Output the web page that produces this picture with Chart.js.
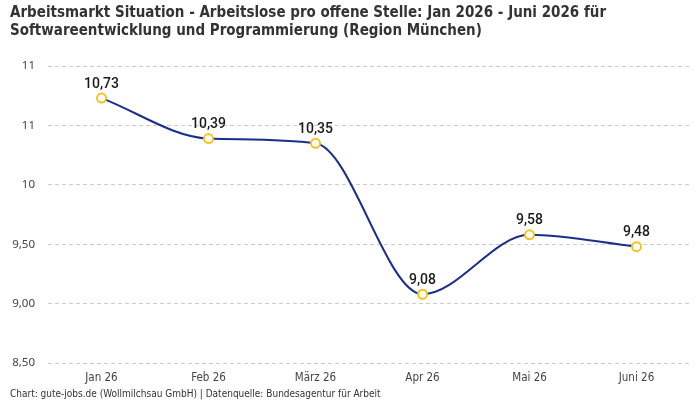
<!DOCTYPE html>
<html>
<head>
<meta charset="utf-8">
<script src="https://cdn.jsdelivr.net/npm/chart.js@4/dist/chart.umd.min.js"></script>
<style>
  html, body { margin: 0; padding: 0; background: #fff; }
  #wrap { width: 700px; height: 400px; }
</style>
</head>
<body>
<div id="wrap"><canvas id="chart"></canvas></div>
<script>
'use strict';

const months = ['Jan 26', 'Feb 26', 'März 26', 'Apr 26', 'Mai 26', 'Juni 26'];
const ratio = [10.73, 10.39, 10.35, 9.08, 9.58, 9.48];
const yTickLabels = ['8,50', '9,00', '9,50', '10', '11', '11'];

const condensed = '"DejaVu Sans Condensed", "Liberation Sans Narrow", sans-serif';

// draws the value above each point
const valueLabels = {
    id: 'valueLabels',
    afterDatasetsDraw(chart) {
        const c = chart.ctx;
        const meta = chart.getDatasetMeta(0);
        c.save();
        c.font = '500 14px Roboto, sans-serif';
        c.fillStyle = '#1a1a1a';
        c.textAlign = 'center';
        c.textBaseline = 'bottom';
        meta.data.forEach((pt, i) => {
            c.fillText(ratio[i].toFixed(2).replace('.', ','), pt.x, pt.y - 7);
        });
        c.restore();
    }
};

new Chart(document.getElementById('chart').getContext('2d'), {
    type: 'line',
    data: {
        labels: months,
        datasets: [{
            data: ratio,
            borderColor: '#1b2e8c',
            borderWidth: 2,
            cubicInterpolationMode: 'monotone',
            pointBackgroundColor: '#ffffff',
            pointBorderColor: '#f7c31a',
            pointBorderWidth: 2,
            pointRadius: 4.5,
            fill: false
        }]
    },
    options: {
        responsive: true,
        maintainAspectRatio: false,
        animation: false,
        layout: { padding: { left: 10, right: 10, top: 0, bottom: 0 } },
        plugins: {
            legend: { display: false },
            tooltip: { enabled: false },
            title: {
                display: true,
                align: 'start',
                text: ['Arbeitsmarkt Situation - Arbeitslose pro offene Stelle: Jan 2026 - Juni 2026 für',
                       'Softwareentwicklung und Programmierung (Region München)'],
                color: '#333333',
                font: { family: condensed, size: 15, weight: 'bold', lineHeight: 1.2 },
                padding: { top: 4, bottom: 26 }
            },
            subtitle: {
                display: true,
                position: 'bottom',
                align: 'start',
                text: 'Chart: gute-jobs.de (Wollmilchsau GmbH) | Datenquelle: Bundesagentur für Arbeit',
                color: '#333333',
                font: { family: condensed, size: 10 },
                padding: { top: 3, bottom: 0 }
            }
        },
        scales: {
            x: {
                offset: true,
                grid: { display: false },
                border: { display: false },
                ticks: { color: '#444444', font: { family: condensed, size: 11.5 }, padding: 0 }
            },
            y: {
                min: 8.5,
                max: 11,
                afterFit: (scale) => { scale.width = 38; },
                grid: { color: '#cccccc', drawTicks: false },
                border: { display: false, dash: [4, 3] },
                ticks: {
                    stepSize: 0.5,
                    color: '#444444',
                    padding: 13,
                    font: { family: '"Noto Sans", sans-serif', size: 11.5 },
                    callback: (v, i) => yTickLabels[i]
                }
            }
        }
    },
    plugins: [valueLabels]
});
</script>
</body>
</html>
